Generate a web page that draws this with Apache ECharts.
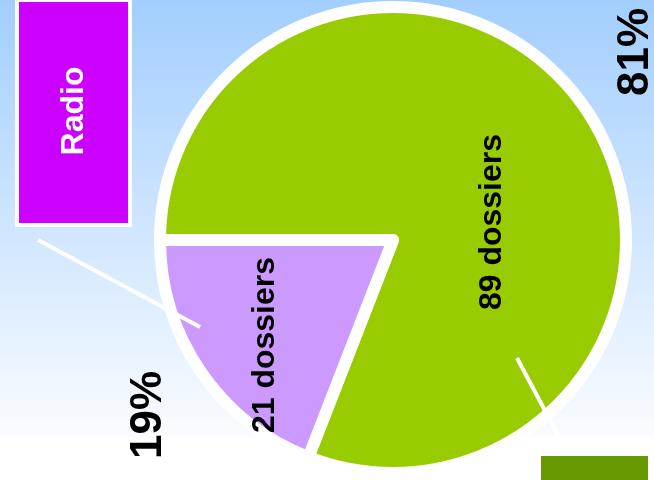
<!DOCTYPE html>
<html><head><meta charset="utf-8">
<script src="https://cdn.jsdelivr.net/npm/echarts@6/dist/echarts.min.js"></script>
<style>html,body{margin:0;padding:0;background:#fff}#c{width:654px;height:480px}</style>
</head><body><div id="c"></div>
<script>
var categories = ['Autres', 'Radio'];
var values = [89, 21];
var sliceColors = ['#99cc00', '#cc99ff'];
var boxColors = ['#669900', '#cc00ff'];
var unit = ' dossiers';

var total = values.reduce(function(a,b){return a+b;},0);
var pct = values.map(function(v){return Math.round(v/total*100)+'%';});
var FONT = '"Liberation Sans", Arial, sans-serif';
var R90 = Math.PI/2;

function rtext(x, y, txt, size, fill, extra){
  var st = {text: txt, x: 0, y: 0, fill: fill, font: 'bold ' + size + 'px ' + FONT, align: 'center', verticalAlign: 'middle'};
  if (extra) for (var k in extra) st[k] = extra[k];
  return {type: 'text', x: x, y: y, rotation: R90, z: 100, silent: true, style: st};
}

var chart = echarts.init(document.getElementById('c'), null, {renderer: 'canvas'});
chart.setOption({
  animation: false,
  graphic: [
    {type: 'rect', z: -100, silent: true, shape: {x: 0, y: 0, width: 654, height: 437},
     style: {fill: new echarts.graphic.LinearGradient(0, 0, 0, 1, [{offset: 0, color: '#a2cefe'}, {offset: 1, color: '#fafcff'}])}},
    {type: 'line', z: 100, silent: true, shape: {x1: 38, y1: 240, x2: 200, y2: 327}, style: {stroke: '#fff', lineWidth: 4}},
    {type: 'line', z: 100, silent: true, shape: {x1: 517, y1: 358, x2: 567, y2: 452}, style: {stroke: '#fff', lineWidth: 4}},
    {type: 'rect', z: 100, silent: true, shape: {x: 17, y: 0, width: 113, height: 225}, style: {fill: boxColors[1], stroke: '#fff', lineWidth: 4}},
    {type: 'rect', z: 100, silent: true, shape: {x: 539, y: 454, width: 111, height: 225}, style: {fill: boxColors[0], stroke: '#fff', lineWidth: 4}},
    rtext(74, 111, categories[1], 32, '#fff', {shadowColor: '#000', shadowOffsetX: 1, shadowOffsetY: -1, shadowBlur: 0}),
    rtext(595, 566, categories[0], 32, '#fff', {shadowColor: '#000', shadowOffsetX: 1, shadowOffsetY: -1, shadowBlur: 0}),
    rtext(492, 222, values[0] + unit, 32, '#000'),
    rtext(265, 345, values[1] + unit, 32, '#000'),
    rtext(636, 52, pct[0], 44, '#000'),
    rtext(149, 415, pct[1], 44, '#000')
  ],
  series: [
    {
      type: 'pie', z: 2, silent: true, center: [393, 240], radius: 233,
      startAngle: 180, clockwise: true,
      label: {show: false}, labelLine: {show: false}, emphasis: {disabled: true},
      itemStyle: {borderColor: '#fff', borderWidth: 12, borderJoin: 'round'},
      data: categories.map(function(c, i){
        return {name: c, value: values[i], itemStyle: {color: sliceColors[i]}};
      })
    }
  ]
});
</script></body></html>
